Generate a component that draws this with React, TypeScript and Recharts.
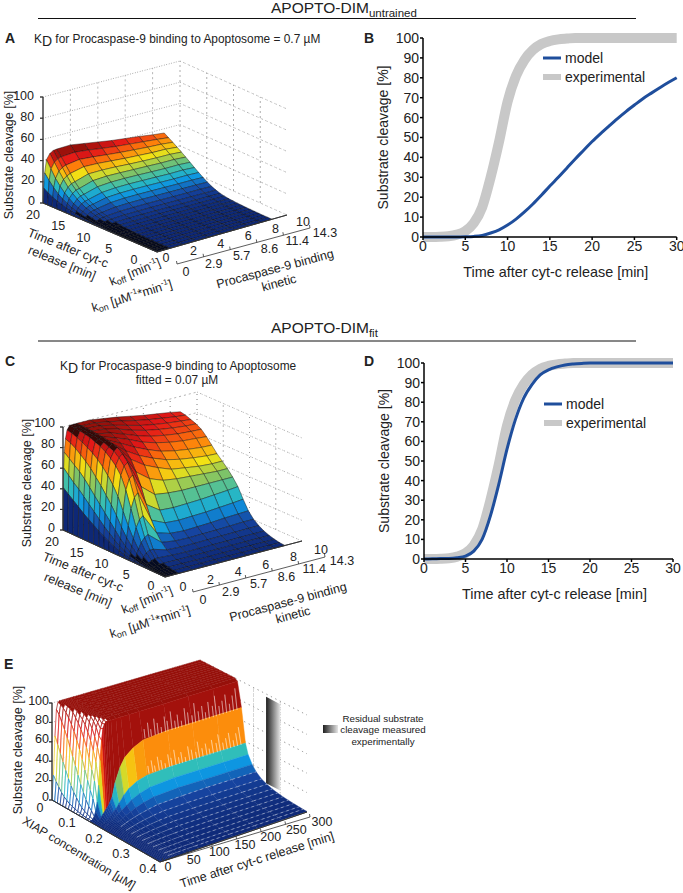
import React from "react"
import { Legend, Line, LineChart, Scatter, ScatterChart, XAxis, YAxis } from "recharts"

const FONT = "'Liberation Sans', Arial, sans-serif"

// panels B and D
const minutes = Array.from({ length: 31 }, (_, i) => i)
const experimentalCleavage = [0, 0, .1, .4, 1.2, 3, 7, 15, 30, 48, 68, 81, 89, 94, 97, 98.5, 99.3, 99.7, 100, 100, 100, 100, 100, 100, 100, 100, 100, 100, 100, 100, 100]
const modelUntrained = [0, 0, 0, 0, 0, .1, .3, .8, 2, 3.6, 6, 9, 12.6, 16.6, 21, 25.6, 30, 34.6, 39.2, 43.6, 48, 52, 55.8, 59.5, 63, 66.3, 69.5, 72.3, 75, 77.6, 80]
const modelFit = [0, .1, .2, .3, .7, 1.5, 4, 10, 22, 38, 56, 71, 82, 89, 94, 96.5, 98, 99, 99.5, 99.8, 100, 100, 100, 100, 100, 100, 100, 100, 100, 100, 100]
const xTicks = [0, 5, 10, 15, 20, 25, 30]
const yTicks = [0, 10, 20, 30, 40, 50, 60, 70, 80, 90, 100]

// panel A surface: one list per koff value, over timesA
const koffA = [0, .05, .12, .25, .5, .75, 1, 2, 3, 4, 5, 6, 7, 8, 8.85]
const timesA = [0, .8, 1.6, 2.4, 3.2, 4, 4.8, 5.6, 6.4, 7.2, 8, 8.8, 9.6, 10.4, 11.2, 12, 12.8, 13.6, 14.4, 15.2, 16, 16.8, 17.6, 18.4, 19.2, 20]
const surfaceA = [
  [0, 0, 0, 0, 0, 0, 0, 0, 0, 0, 0, 0, 0, 0, 0, 0, 0, 0, 0, 0, 0, 0, 0, 0, 0, 0],
  [0, 0, 0, 0, 0, 0, 0, .1, .1, .2, .2, .3, .4, .5, .7, 1, 1.4, 1.9, 2.5, 3.2, 4.2, 5.5, 7, 8.8, 11, 14],
  [0, 0, 0, 0, 0, 0, .1, .1, .2, .3, .4, .5, .7, 1, 1.4, 2, 2.7, 3.6, 4.7, 6, 8, 10.5, 13.5, 17.5, 22.5, 28],
  [0, 0, 0, 0, 0, .1, .1, .2, .3, .4, .6, .9, 1.2, 1.7, 2.4, 3.3, 4.4, 5.8, 7.5, 9.5, 12.5, 16, 20.5, 26, 33, 40],
  [0, 0, 0, 0, .1, .1, .2, .3, .4, .6, .9, 1.3, 1.9, 2.7, 3.6, 4.8, 6.3, 8.2, 10.5, 13, 16.5, 20.5, 26, 32, 38.5, 45],
  [0, 0, 0, 0, .1, .1, .2, .3, .5, .7, 1, 1.5, 2.2, 3.1, 4.2, 5.6, 7.3, 9.5, 12, 15, 18.8, 23, 28.5, 34.5, 41, 47],
  [0, 0, 0, 0, .1, .1, .2, .3, .5, .8, 1.1, 1.7, 2.4, 3.4, 4.6, 6.1, 8, 10.2, 12.8, 15.8, 19.5, 24, 30, 36, 42, 47.5],
  [0, 0, 0, .1, .1, .2, .3, .4, .6, .9, 1.3, 1.9, 2.8, 4, 5.6, 7.7, 10.2, 13, 16, 19.5, 23.5, 28, 33, 38, 43, 48],
  [0, 0, 0, .1, .1, .2, .3, .4, .6, .9, 1.3, 2, 2.9, 4.2, 5.9, 8.2, 10.9, 13.8, 17, 20.5, 24.3, 28.2, 32.6, 37, 41.6, 46],
  [0, 0, 0, .1, .1, .2, .3, .4, .6, .9, 1.3, 2, 2.9, 4.2, 6, 8.3, 11, 14, 17.2, 20.6, 24.1, 27.8, 31.6, 35.6, 39.8, 44],
  [0, 0, 0, .1, .1, .2, .3, .4, .6, .9, 1.3, 1.9, 2.8, 4.1, 5.9, 8.2, 10.9, 13.9, 17, 20.4, 23.7, 27, 30.6, 34.4, 38.2, 42],
  [0, 0, 0, .1, .1, .2, .3, .4, .6, .9, 1.3, 1.9, 2.8, 4.1, 5.8, 8.1, 10.8, 13.7, 16.8, 20, 23.4, 26.5, 29.9, 33.4, 37, 40.5],
  [0, 0, 0, .1, .1, .2, .3, .4, .6, .9, 1.2, 1.9, 2.7, 4, 5.7, 8, 10.7, 13.5, 16.5, 19.7, 23, 26.1, 29.2, 32.5, 35.8, 39],
  [0, 0, 0, .1, .1, .2, .3, .4, .6, .9, 1.2, 1.8, 2.7, 4, 5.8, 8, 10.7, 13.6, 16.7, 19.8, 23, 26, 29, 31.9, 34.6, 37.2],
  [0, 0, 0, .1, .1, .2, .3, .4, .6, .9, 1.2, 1.8, 2.6, 3.9, 5.6, 7.8, 10.4, 13.2, 16.1, 19.2, 22.3, 25.2, 28, 30.8, 33.4, 36],
]

// panel C surface: one list per koff value, over timesC
const koffC = [0, .02, .05, .1, .18, .3, .5, .75, 1, 2, 3, 4, 5, 6, 7, 8, 8.76]
const timesC = [0, 1, 2, 3, 4, 5, 6, 7, 8, 9, 10, 11, 12, 13, 14, 15, 16, 17, 18, 19, 20]
const surfaceC = [
  [0, 0, 0, 0, 0, 0, 0, 0, 0, 0, 0, 0, 0, 0, 0, 0, 0, 0, 0, 0, 0],
  [0, 0, .1, .2, .4, .8, 1.3, 2, 3, 4.5, 6.5, 9, 11.5, 14.5, 18, 21.5, 25, 29, 33, 37, 41],
  [0, .1, .2, .4, .8, 1.6, 2.6, 4, 6, 9, 12.5, 17, 21, 26, 31, 36, 41, 46, 50, 55, 60],
  [0, .1, .3, .7, 1.4, 2.8, 4.5, 7, 11, 16, 22, 28, 34, 40, 46, 52, 58, 63, 67, 71, 75],
  [0, .2, .5, 1.1, 2.4, 4.5, 8, 13, 19, 27, 36, 44, 51, 58, 64, 70, 75, 79, 83, 86, 88],
  [0, .3, .8, 1.8, 3.6, 7, 12, 20, 30, 42, 54, 63, 70, 76, 81, 85, 88, 91, 93, 95, 96],
  [0, .4, 1.1, 2.5, 5, 10, 18, 30, 46, 62, 74, 81, 86, 90, 93, 95, 97, 98, 99, 99.5, 100],
  [0, .5, 1.4, 3, 6, 12, 22, 37, 56, 72, 82, 88, 92, 94, 96, 97.5, 98.5, 99, 99.5, 100, 100],
  [0, .5, 1.5, 3, 6, 12, 24, 40, 60, 75, 85, 91, 95, 96.5, 97.5, 98.5, 99, 99.5, 100, 100, 100],
  [0, .5, 1.4, 2.8, 5, 8, 13, 20, 30, 43, 58, 70, 80, 86, 91, 94, 96.5, 98, 99, 99.5, 100],
  [0, .5, 1.4, 2.8, 4.6, 7.2, 11, 16, 24, 34, 47, 60, 71, 78, 84, 89, 92, 94.5, 96, 97, 98],
  [0, .5, 1.4, 2.8, 4.6, 7.2, 10.5, 15, 23, 33, 45, 55, 65, 72, 78, 83, 87, 90, 92.5, 94.5, 96],
  [0, .5, 1.5, 2.9, 4.8, 7.4, 10.8, 15.5, 23.5, 33.5, 44, 53, 60, 67, 73, 79, 83, 86.5, 89, 91.5, 93.5],
  [0, .5, 1.5, 3, 4.8, 7.6, 11, 16, 24, 34, 44, 52, 58, 64, 70, 76, 80.5, 84, 86.5, 89, 91],
  [0, .5, 1.5, 3, 5, 7.8, 11.5, 17, 25, 35, 44, 51, 56, 62, 68, 74, 78.5, 82, 84.5, 87, 89],
  [0, .5, 1.5, 3, 5, 8, 12, 17.5, 26, 36, 44, 50, 55, 60.5, 66.5, 73, 77.5, 80.5, 83, 85, 87],
  [0, .5, 1.5, 3, 5, 8, 12, 18, 27, 37, 44, 50, 55, 60, 66, 72, 77, 80, 82, 84, 85],
]

// panel E surface: one list per XIAP value, over timesE
const xiapE = [0, .01, .02, .03, .04, .05, .06, .07, .08, .09, .1, .11, .12, .13, .14, .155, .17, .18, .195, .21, .23, .25, .27, .29, .31, .33, .35, .37, .385, .4]
const timesE = [0, 3, 6, 9, 12, 15, 18, 21, 24, 27, 30, 33, 37, 43, 53, 63, 80, 100, 150, 200, 250, 300]
const surfaceE = [
  [0, 25, 65, 92, 99, 100, 100, 100, 100, 100, 100, 100, 100, 100, 100, 100, 100, 100, 100, 100, 100, 100],
  [0, 20, 58, 88, 98, 100, 100, 100, 100, 100, 100, 100, 100, 100, 100, 100, 100, 100, 100, 100, 100, 100],
  [0, 16, 50, 82, 96, 99.5, 100, 100, 100, 100, 100, 100, 100, 100, 100, 100, 100, 100, 100, 100, 100, 100],
  [0, 12, 43, 76, 93, 99, 100, 100, 100, 100, 100, 100, 100, 100, 100, 100, 100, 100, 100, 100, 100, 100],
  [0, 9, 36, 69, 89, 98, 100, 100, 100, 100, 100, 100, 100, 100, 100, 100, 100, 100, 100, 100, 100, 100],
  [0, 7, 29, 61, 84, 96, 99.5, 100, 100, 100, 100, 100, 100, 100, 100, 100, 100, 100, 100, 100, 100, 100],
  [0, 5, 23, 53, 78, 92, 98, 100, 100, 100, 100, 100, 100, 100, 100, 100, 100, 100, 100, 100, 100, 100],
  [0, 4, 18, 45, 71, 88, 96, 99.5, 100, 100, 100, 100, 100, 100, 100, 100, 100, 100, 100, 100, 100, 100],
  [0, 3, 14, 37, 63, 83, 93, 98, 100, 100, 100, 100, 100, 100, 100, 100, 100, 100, 100, 100, 100, 100],
  [0, 2, 10, 29, 54, 76, 89, 96, 99, 100, 100, 100, 100, 100, 100, 100, 100, 100, 100, 100, 100, 100],
  [0, 1.5, 7, 22, 45, 68, 83, 93, 98, 99.5, 100, 100, 100, 100, 100, 100, 100, 100, 100, 100, 100, 100],
  [0, 1, 5, 16, 36, 58, 76, 88, 95, 98, 99.5, 100, 100, 100, 100, 100, 100, 100, 100, 100, 100, 100],
  [0, .7, 3.5, 11, 27, 48, 67, 81, 90, 95, 98, 99.5, 100, 100, 100, 100, 100, 100, 100, 100, 100, 100],
  [0, .5, 2.5, 8, 20, 38, 57, 72, 83, 90, 95, 98, 99, 100, 100, 100, 100, 100, 100, 100, 100, 100],
  [0, .4, 1.5, 4, 9, 18, 35, 60, 80, 92, 96, 98, 98, 98, 98, 98, 98, 98, 98, 98, 98, 98],
  [0, .2, .7, 1.5, 3, 5, 7, 9, 11, 13, 15, 18, 22, 36, 50, 59, 66, 71, 73, 73, 73, 73],
  [0, .1, .4, .8, 1.5, 2.5, 3.5, 4.5, 6, 7.5, 9, 10.5, 12.5, 17, 24, 29, 34, 37, 38.5, 38.5, 38.5, 38.5],
  [0, .1, .3, .6, 1, 1.7, 2.4, 3.2, 4.2, 5.3, 6.4, 7.5, 9, 11.5, 15, 19, 23, 26, 28, 28, 28, 28],
  [0, .1, .2, .4, .7, 1.2, 1.7, 2.3, 3, 3.8, 4.6, 5.4, 6.5, 8.2, 10.5, 13, 16, 18.5, 20, 20, 20, 20],
  [0, .1, .2, .3, .5, .8, 1.2, 1.6, 2.1, 2.7, 3.3, 3.9, 4.7, 5.9, 7.5, 9, 11, 13, 14, 14.5, 14.5, 14.5],
  [0, 0, .1, .2, .4, .6, .9, 1.2, 1.5, 1.9, 2.3, 2.8, 3.3, 4.2, 5.4, 6.5, 8, 9.3, 10, 10, 10, 10],
  [0, 0, .1, .2, .3, .4, .6, .9, 1.1, 1.4, 1.7, 2, 2.4, 3, 3.9, 4.7, 5.8, 6.7, 7.2, 7.3, 7.3, 7.3],
  [0, 0, .1, .1, .2, .3, .5, .6, .8, 1, 1.2, 1.5, 1.8, 2.2, 2.9, 3.5, 4.3, 5, 5.3, 5.4, 5.4, 5.4],
  [0, 0, 0, .1, .2, .2, .3, .5, .6, .7, .9, 1.1, 1.3, 1.6, 2.1, 2.5, 3.1, 3.6, 3.9, 4, 4, 4],
  [0, 0, 0, .1, .1, .2, .2, .3, .4, .5, .6, .8, 1, 1.2, 1.6, 1.9, 2.3, 2.7, 2.9, 3, 3, 3],
  [0, 0, 0, .1, .1, .1, .2, .2, .3, .4, .5, .6, .7, .9, 1.1, 1.4, 1.7, 2, 2.2, 2.2, 2.2, 2.2],
  [0, 0, 0, 0, .1, .1, .1, .2, .2, .3, .3, .4, .5, .6, .8, 1, 1.2, 1.4, 1.5, 1.6, 1.6, 1.6],
  [0, 0, 0, 0, .1, .1, .1, .1, .2, .2, .2, .3, .3, .4, .5, .7, .8, 1, 1.1, 1.1, 1.1, 1.1],
  [0, 0, 0, 0, 0, .1, .1, .1, .1, .1, .2, .2, .2, .3, .4, .5, .5, .6, .7, .7, .7, .7],
  [0, 0, 0, 0, 0, 0, .1, .1, .1, .1, .1, .1, .2, .2, .3, .3, .4, .4, .5, .5, .5, .5],
]
// pale streaks where the mesh opens at the foot of the red and orange bands
const streakTimes = [104, 112, 117, 125, 131, 138, 146, 151, 159, 166, 172, 179, 187, 193, 201, 207, 214, 222, 228, 235, 243, 249, 256, 263, 270, 277, 284, 291]
const streakHeights = [9, 14, 7, 16, 11, 6, 15, 10, 18, 8, 13, 6, 17, 12, 8, 19, 10, 14, 7, 16, 11, 20, 9, 13, 18, 8, 15, 21]
// grey plane of panel E
const residualXiap = [.247, .3]
const residualRange = [8, 97]

const zTicks = [0, 20, 40, 60, 80, 100]
const koffTicks = ["0", "2", "4", "6", "8", "10"]
const konTicks = ["0", "2.9", "5.7", "8.6", "11.4", "14.3"]
const timeTicks = ["20", "15", "10", "5", "0"]
const xiapTicks = ["0", "0.1", "0.2", "0.3", "0.4"]
const timeTicksE = ["0", "50", "100", "150", "200", "250", "300"]

type Pt = [number, number]
type Box = { front: Pt; right: Pt; back: Pt; left: Pt; h: number }

const boxA: Box = { front: [157, 252], right: [287, 215], back: [180, 167], left: [43, 203], h: 106 }
const boxC: Box = { front: [165, 577], right: [302, 541], back: [197, 495], left: [63, 530], h: 103 }
const boxE: Box = { front: [160, 862], right: [307, 812], back: [200, 757], left: [52, 800], h: 97 }

const project = (box: Box, a: number, b: number, z: number): Pt => {
  const mix = (i: 0 | 1) =>
    (1 - a) * (1 - b) * box.front[i] + a * (1 - b) * box.right[i] + a * b * box.back[i] + (1 - a) * b * box.left[i]
  return [mix(0), mix(1) - (z / 100) * box.h]
}

const jetStops: [number, number[]][] = [
  [0, [14, 40, 118]], [.15, [22, 68, 160]], [.28, [14, 150, 225]], [.38, [45, 190, 190]],
  [.5, [125, 195, 105]], [.62, [242, 226, 20]], [.75, [254, 125, 10]], [.88, [228, 24, 24]], [1, [150, 16, 10]],
]
const jet = (v: number) => {
  const t = Math.min(1, Math.max(0, v))
  for (let i = 1; i < jetStops.length; i++) {
    if (t <= jetStops[i][0]) {
      const [t0, c0] = jetStops[i - 1]
      const [t1, c1] = jetStops[i]
      const f = (t - t0) / (t1 - t0)
      return `rgb(${c0.map((c, j) => Math.round(c + (c1[j] - c) * f)).join(",")})`
    }
  }
  return "rgb(150,16,10)"
}

const item = (pts: Pt[], style: any) => ({
  x: pts[0][0],
  y: pts[0][1],
  d: pts.map((p) => [p[0] - pts[0][0], p[1] - pts[0][1]]),
  ...style,
})

const wall = (box: Box, aTicks: number[], bTicks: number[]) => {
  const style = { fill: "none", stroke: "#999", sw: .8, dash: "1 4" }
  const out: any[] = []
  zTicks.forEach((z) => {
    out.push(item([project(box, 0, 1, z), project(box, 1, 1, z)], style))
    out.push(item([project(box, 1, 1, z), project(box, 1, 0, z)], style))
  })
  aTicks.forEach((a) => out.push(item([project(box, a, 1, 0), project(box, a, 1, 100)], style)))
  bTicks.forEach((b) => out.push(item([project(box, 1, b, 0), project(box, 1, b, 100)], style)))
  return out
}

// koff columns and time rows, drawn from far to near
const kineticMesh = (box: Box, koff: number[], times: number[], surface: number[][], maxZ: number, darkTop: boolean) => {
  const out: any[] = []
  for (let r = times.length - 2; r >= 0; r--) {
    for (let c = koff.length - 2; c >= 0; c--) {
      const p = (ci: number, ri: number) => project(box, koff[ci] / 10, times[ri] / 20, surface[ci][ri])
      const z = surface[c][r + 1] / maxZ
      // the fine koff columns print almost solid black where they bunch up
      const low = koff[c] >= .05 && koff[c + 1] <= 1.01 && z < .06
      const high = darkTop && koff[c] >= .1 && koff[c + 1] <= 1.01 && z > .93
      out.push(item([p(c, r), p(c + 1, r), p(c + 1, r + 1), p(c, r + 1)], {
        fill: low ? "#050a22" : high ? "#3a0806" : jet(z),
        stroke: "#0a0a0a",
        sw: .55,
        so: .75,
      }))
    }
  }
  return out
}

const xiapMesh = () => {
  const out: any[] = []
  const p = (ri: number, ci: number) =>
    project(boxE, timesE[ci] / 300, 1 - xiapE[ri] / .4, surfaceE[ri][ci])
  for (let r = 0; r < xiapE.length - 1; r++) {
    for (let c = timesE.length - 2; c >= 0; c--) {
      const z = surfaceE[r][c + 1]
      const open = xiapE[r] <= .13 && timesE[c] < 37 && z < 99.8
      const color = jet(z / 100)
      out.push(item([p(r, c), p(r, c + 1), p(r + 1, c + 1), p(r + 1, c)], open
        ? { fill: "#fff", fo: .8, stroke: color, sw: .7 }
        : { fill: color, stroke: color, sw: .4 }))
    }
    if (xiapE[r] > .2) {
      const row = timesE.map((_, c) => p(r, c)).slice(8)
      row.slice(1).forEach((pt, i) => out.push(item([row[i], pt], { fill: "none", stroke: "#fff", sw: .5, so: .5, dash: "3 3" })))
    }
  }
  return out
}

const streaks = () => {
  const out: any[] = []
  const s = { fill: "none", stroke: "#fff", sw: .8, so: .4 }
  streakTimes.forEach((t, i) => {
    const h = streakHeights[i]
    const a = t / 300
    out.push(item([project(boxE, a, 1 - .155 / .4, 72), project(boxE, a, 1 - (.155 - h * .0004) / .4, 72 + h)], s))
    out.push(item([project(boxE, a, 1 - .17 / .4, 38), project(boxE, a, 1 - (.17 - h * .0005) / .4, 38 + h * .8)], s))
  })
  return out
}

const residualPlane = () => {
  const [z0, z1] = residualRange
  const b0 = 1 - residualXiap[0] / .4
  const b1 = 1 - residualXiap[1] / .4
  return [item([project(boxE, 1, b0, z0), project(boxE, 1, b1, z0), project(boxE, 1, b1, z1), project(boxE, 1, b0, z1)], { fill: "url(#resid)", stroke: "none", sw: 0 })]
}

const edges = (box: Box) => {
  const s = { fill: "none", stroke: "#333", sw: .9 }
  return [
    item([project(box, 0, 1, 0), project(box, 0, 1, 100)], s),
    item([project(box, 0, 1, 0), project(box, 0, 0, 0)], s),
    item([project(box, 0, 0, 0), project(box, 1, 0, 0)], s),
    ...zTicks.map((z) => {
      const p = project(box, 0, 1, z)
      return item([p, [p[0] - 3, p[1]] as Pt], s)
    }),
  ]
}

const wallsData = [
  ...wall(boxA, [.2, .4, .6, .8, 1], [.25, .5, .75]),
  ...wall(boxC, [.2, .4, .6, .8, 1], [.25, .5, .75]),
  ...wall(boxE, [.25, .5, .75, 1], [.25, .5, .75]),
]
const meshData = [
  ...kineticMesh(boxA, koffA, timesA, surfaceA, 48, false),
  ...kineticMesh(boxC, koffC, timesC, surfaceC, 100, true),
  ...residualPlane(),
  ...xiapMesh(),
  ...streaks(),
]
const edgeData = [...edges(boxA), ...edges(boxC), ...edges(boxE)]

const Poly = (props: any) => {
  const { cx, cy, payload } = props
  return (
    <polygon
      points={payload.d.map((q: number[]) => `${cx + q[0]},${cy + q[1]}`).join(" ")}
      fill={payload.fill}
      fillOpacity={payload.fo ?? 1}
      stroke={payload.stroke}
      strokeWidth={payload.sw}
      strokeOpacity={payload.so ?? 1}
      strokeDasharray={payload.dash}
      strokeLinejoin="round"
    />
  )
}

const SurfaceLayer = () => (
  <ScatterChart width={683} height={893} margin={{ top: 0, right: 0, bottom: 0, left: 0 }}>
    <XAxis type="number" dataKey="x" domain={[0, 683]} hide />
    <YAxis type="number" dataKey="y" domain={[0, 893]} reversed hide />
    <Scatter data={wallsData} shape={Poly} isAnimationActive={false} />
    <Scatter data={meshData} shape={Poly} isAnimationActive={false} />
    <Scatter data={edgeData} shape={Poly} isAnimationActive={false} />
  </ScatterChart>
)

const LegendBox = () => (
  <svg width={140} height={40} style={{ display: "block" }}>
    <line x1={0} x2={18} y1={8} y2={8} stroke="#1f4e9c" strokeWidth={3} />
    <line x1={0} x2={18} y1={27} y2={27} stroke="#c8c8c8" strokeWidth={6} />
    <text x={22} y={13} fontSize={14} fill="#222" fontFamily={FONT}>model</text>
    <text x={22} y={32} fontSize={14} fill="#222" fontFamily={FONT}>experimental</text>
  </svg>
)

const tickStyle = { fontSize: 14, fill: "#222", fontFamily: FONT }

const CurveChart = ({ model, left, top, legendTop, plotW, plotH }: any) => {
  const rows = minutes.map((t, i) => ({ t, experimental: experimentalCleavage[i], model: model[i] }))
  return (
    <div style={{ position: "absolute", left, top }}>
      <LineChart width={313} height={plotH + 75} data={rows} margin={{ top: 18, right: 313 - 53 - plotW, bottom: 27, left: 0 }}>
        <XAxis
          dataKey="t"
          type="number"
          domain={[0, 30]}
          ticks={xTicks}
          tick={tickStyle}
          tickSize={3}
          tickMargin={1}
          height={30}
          interval={0}
          stroke="#000"
          strokeWidth={1.5}
          label={{ value: "Time after cyt-c release [min]", position: "insideBottom", offset: -10, dx: 6, fontSize: 14.4, fill: "#222", fontFamily: FONT }}
        />
        <YAxis
          type="number"
          domain={[0, 100]}
          ticks={yTicks}
          tick={tickStyle}
          tickSize={3}
          tickMargin={1}
          width={53}
          interval={0}
          stroke="#000"
          strokeWidth={1.5}
          label={{ value: "Substrate cleavage [%]", angle: -90, position: "insideLeft", offset: 13, fontSize: 14, fill: "#222", fontFamily: FONT, style: { textAnchor: "middle" } }}
        />
        <Line dataKey="experimental" type="monotone" stroke="#c8c8c8" strokeWidth={10} dot={false} isAnimationActive={false} />
        <Line dataKey="model" type="monotone" stroke="#1f4e9c" strokeWidth={3} dot={false} isAnimationActive={false} />
        <Legend
          layout="vertical"
          align="center"
          verticalAlign="middle"
          content={() => <LegendBox />}
          wrapperStyle={{ left: 173, top: legendTop, width: 140, height: 40 }}
        />
      </LineChart>
    </div>
  )
}

const T = ({ x, y, size = 12.5, rot, anchor = "middle", weight, children, base }: any) => (
  <text
    x={x}
    y={y}
    fontSize={size}
    textAnchor={anchor}
    fontWeight={weight}
    fill="#222"
    fontFamily={FONT}
    dominantBaseline={base}
    transform={rot ? `rotate(${rot} ${x} ${y})` : undefined}
  >
    {children}
  </text>
)

const Along = ({ labels, from, to, anchor = "middle" }: any) => (
  <>
    {labels.map((s: string, i: number) => {
      const f = i / (labels.length - 1)
      return (
        <T key={s} x={from[0] + (to[0] - from[0]) * f} y={from[1] + (to[1] - from[1]) * f} anchor={anchor} base="central">
          {s}
        </T>
      )
    })}
  </>
)

const TickLine = ({ from, to, n }: any) => (
  <>
    <line x1={from[0]} y1={from[1]} x2={to[0]} y2={to[1]} stroke="#333" strokeWidth={.8} />
    {Array.from({ length: n }, (_, i) => {
      const f = i / (n - 1)
      const x = from[0] + (to[0] - from[0]) * f
      const y = from[1] + (to[1] - from[1]) * f
      return <line key={i} x1={x} y1={y} x2={x - .5} y2={y - 3} stroke="#333" strokeWidth={.8} />
    })}
  </>
)

const sub = (s: string, size = 9) => <tspan dy={3} fontSize={size}>{s}</tspan>
const sup = (s: string) => <tspan dy={-4} fontSize={8}>{s}</tspan>
const back = (d: number, s: string) => <tspan dy={d}>{s}</tspan>

const Texts = () => (
  <svg width={683} height={893} style={{ position: "absolute", left: 0, top: 0 }}>
    <defs>
      <linearGradient id="resid" x1="0" x2="1" y1="0" y2="0">
        <stop offset="0" stopColor="#1e1e1e" />
        <stop offset="1" stopColor="#e6e6e6" />
      </linearGradient>
    </defs>

    <T x={271} y={13} size={15.5} anchor="start">APOPTO-DIM<tspan dy={3.5} fontSize={11.5}>untrained</tspan></T>
    <line x1={38} x2={636} y1={18.5} y2={18.5} stroke="#111" strokeWidth={1} />
    <T x={271} y={333} size={15.5} anchor="start">APOPTO-DIM<tspan dy={3.5} fontSize={11.5}>fit</tspan></T>
    <line x1={38} x2={636} y1={341} y2={341} stroke="#111" strokeWidth={1} />

    <T x={5} y={43} size={14} anchor="start" weight="bold">A</T>
    <T x={364} y={43} size={14} anchor="start" weight="bold">B</T>
    <T x={5} y={366} size={14} anchor="start" weight="bold">C</T>
    <T x={364} y={366} size={14} anchor="start" weight="bold">D</T>
    <T x={4} y={669} size={14} anchor="start" weight="bold">E</T>

    <T x={34} y={43} size={11.9} anchor="start">K<tspan dy={3} fontSize={14}>D</tspan><tspan dy={-3}> for Procaspase-9 binding to Apoptosome = 0.7 µM</tspan></T>
    <T x={60} y={370} size={11.9} anchor="start">K<tspan dy={3} fontSize={14}>D</tspan><tspan dy={-3}> for Procaspase-9 binding to Apoptosome</tspan></T>
    <T x={177} y={384} size={11.9}>fitted = 0.07 µM</T>

    {/* panel A axes */}
    <Along labels={[...zTicks].map(String)} from={[35, 201]} to={[34, 96]} anchor="end" />
    <Along labels={timeTicks} from={[33, 215]} to={[134, 260]} />
    <Along labels={koffTicks} from={[166, 258]} to={[303, 222]} />
    <Along labels={konTicks} from={[186, 272]} to={[325, 233]} />
    <TickLine from={[177, 264]} to={[310, 228]} n={6} />
    <T x={9} y={155} rot={-90} size={12.5} base="central">Substrate cleavage [%]</T>
    <T x={68} y={248} rot={22} size={12.5} base="central">Time after cyt-c</T>
    <T x={62} y={263} rot={22} size={12.5} base="central">release [min]</T>
    <T x={135} y={272} rot={-22} size={12.5} base="central">k{sub("off")}{back(-3, " [min")}{sup("-1")}{back(4, "]")}</T>
    <T x={132} y={296} rot={-17} size={12.5} base="central">k{sub("on")}{back(-3, " [µM")}{sup("-1")}{back(4, "*min")}{sup("-1")}{back(4, "]")}</T>
    <T x={275} y={269} rot={-15} size={12.5} base="central">Procaspase-9 binding</T>
    <T x={279} y={283} rot={-15} size={12.5} base="central">kinetic</T>

    {/* panel C axes */}
    <Along labels={[...zTicks].map(String)} from={[55, 528]} to={[55, 423]} anchor="end" />
    <Along labels={timeTicks} from={[52, 542]} to={[151, 586]} />
    <Along labels={koffTicks} from={[183, 587]} to={[321, 550]} />
    <Along labels={konTicks} from={[203, 600]} to={[342, 561]} />
    <TickLine from={[193, 592]} to={[325, 557]} n={6} />
    <T x={27} y={483} rot={-90} size={12.5} base="central">Substrate cleavage [%]</T>
    <T x={83} y={572} rot={22} size={12.5} base="central">Time after cyt-c</T>
    <T x={78} y={590} rot={22} size={12.5} base="central">release [min]</T>
    <T x={147} y={600} rot={-22} size={12.5} base="central">k{sub("off")}{back(-3, " [min")}{sup("-1")}{back(4, "]")}</T>
    <T x={150} y={622} rot={-17} size={12.5} base="central">k{sub("on")}{back(-3, " [µM")}{sup("-1")}{back(4, "*min")}{sup("-1")}{back(4, "]")}</T>
    <T x={288} y={602} rot={-15} size={12.5} base="central">Procaspase-9 binding</T>
    <T x={293} y={615} rot={-15} size={12.5} base="central">kinetic</T>

    {/* panel E axes */}
    <Along labels={[...zTicks].map(String)} from={[49, 797]} to={[49, 701]} anchor="end" />
    <Along labels={xiapTicks} from={[40, 808]} to={[148, 869]} />
    <Along labels={timeTicksE} from={[168, 867]} to={[322, 822]} />
    <TickLine from={[163, 861]} to={[310, 817]} n={7} />
    <T x={18} y={750} rot={-90} size={12.5} base="central">Substrate cleavage [%]</T>
    <T x={79} y={853} rot={31} size={12} base="central">XIAP concentration [µM]</T>
    <T x={257} y={860} rot={-17.5} size={12.5} base="central">Time after cyt-c release [min]</T>

    <rect x={323} y={725} width={15} height={8} fill="url(#resid)" />
    <T x={383} y={722} size={9.8}>Residual substrate</T>
    <T x={383} y={733} size={9.8}>cleavage measured</T>
    <T x={383} y={745} size={9.8}>experimentally</T>
  </svg>
)

export default function App() {
  return (
    <div style={{ position: "absolute", left: 0, top: 0, width: 683, height: 893, background: "#fff", overflow: "hidden" }}>
      <div style={{ position: "absolute", left: 0, top: 0 }}>
        <SurfaceLayer />
      </div>
      <Texts />
      <CurveChart model={modelUntrained} left={370} top={20} legendTop={30} plotW={253.7} plotH={199} />
      <CurveChart model={modelFit} left={371} top={345} legendTop={51} plotW={249} plotH={196} />
    </div>
  )
}
